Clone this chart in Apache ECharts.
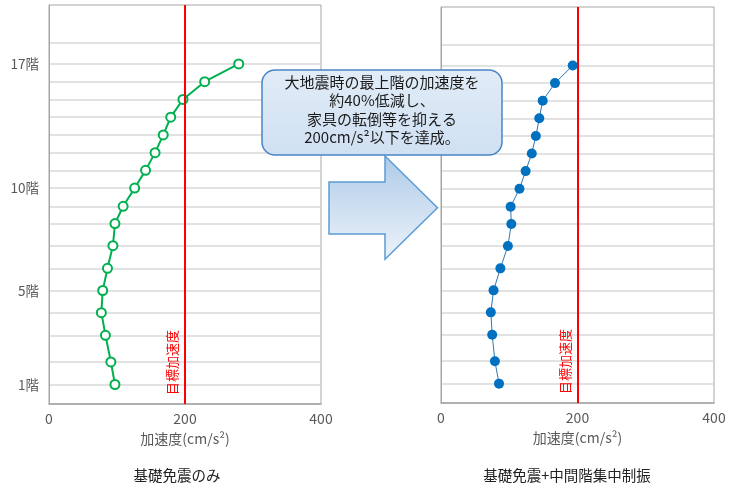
<!DOCTYPE html>
<html>
<head>
<meta charset="utf-8">
<script src="https://cdn.jsdelivr.net/npm/echarts@6/dist/echarts.min.js"></script>
<style>
  html, body { margin: 0; padding: 0; background: #fff; }
  #chart { width: 732px; height: 488px; }
</style>
</head>
<body>
<div id="chart"></div>
<script>
const floorNames = ['1階', '2階', '3階', '4階', '5階', '6階', '7階', '8階', '9階',
  '10階', '11階', '12階', '13階', '14階', '15階', '16階', '17階']
// 各階の高さ (m)
const floorHeights = [4.4, 9.5, 15.5, 20.6, 25.6, 30.6, 35.7, 40.7, 44.6,
  48.7, 52.7, 56.7, 60.7, 64.7, 68.7, 72.7, 76.7]
const roofHeight = 81.4
const labeledFloors = ['1階', '5階', '10階', '17階']
// 加速度 (cm/s2)
const accelBase = [97, 91, 83, 77, 79, 86, 94, 97, 109, 126, 142, 156, 168, 179, 197, 229, 279]
const accelDamped = [85, 79, 75, 73, 77, 87, 98, 103, 102, 115, 124, 133, 139, 144, 149, 167, 193]
const targetAccel = 200

const font = '"Noto Sans CJK JP", "Noto Sans", sans-serif'
const gray = '#595959'

const gridLevels = floorHeights.concat([roofHeight])
const labelValues = labeledFloors.map(f => floorHeights[floorNames.indexOf(f)])

function yAxisFor(gridIndex, showLabel) {
  return {
    type: 'value',
    gridIndex,
    min: 0,
    max: 90,
    axisLine: { show: true, lineStyle: { color: '#a6a6a6', width: 1 } },
    axisTick: { show: false, customValues: gridLevels },
    splitLine: { show: true, customValues: gridLevels, lineStyle: { color: '#d9d9d9', width: 1.5 } },
    axisLabel: {
      show: showLabel,
      customValues: labelValues,
      color: gray,
      fontSize: 13.5,
      fontFamily: font,
      margin: 10,
      formatter: v => {
        const i = floorHeights.findIndex(h => Math.abs(h - v) < 0.01)
        return i >= 0 ? floorNames[i] : ''
      }
    }
  }
}

function xAxisFor(gridIndex) {
  return {
    type: 'value',
    gridIndex,
    min: 0,
    max: 400,
    interval: 200,
    name: '加速度(cm/s²)',
    nameLocation: 'middle',
    nameGap: 28,
    nameTextStyle: { color: gray, fontSize: 14, fontFamily: font },
    axisLine: { show: true, lineStyle: { color: '#a6a6a6', width: 1.5 } },
    axisTick: { show: false },
    splitLine: { show: false },
    axisLabel: { color: gray, fontSize: 14, fontFamily: font, margin: 8 }
  }
}

function targetLine() {
  return {
    silent: true,
    symbol: 'none',
    lineStyle: { color: '#ff0000', width: 2, type: 'solid' },
    label: {
      show: true,
      formatter: '目標加速度',
      position: 'insideStartTop',
      distance: [9, 6],
      color: '#ff0000',
      fontSize: 13,
      fontFamily: font
    },
    data: [{ xAxis: targetAccel }]
  }
}

const chart = echarts.init(document.getElementById('chart'))
chart.setOption({
  animation: false,
  grid: [
    { left: 49, right: 411, top: 5, bottom: 84, show: true, borderColor: '#a6a6a6', borderWidth: 1 },
    { left: 441, right: 18, top: 7, bottom: 85, show: true, borderColor: '#a6a6a6', borderWidth: 1 }
  ],
  xAxis: [xAxisFor(0), xAxisFor(1)],
  yAxis: [yAxisFor(0, true), yAxisFor(1, false)],
  series: [
    {
      name: '基礎免震のみ',
      type: 'line',
      xAxisIndex: 0,
      yAxisIndex: 0,
      data: accelBase.map((a, i) => [a, floorHeights[i]]),
      symbol: 'emptyCircle',
      symbolSize: 9,
      lineStyle: { color: '#00b050', width: 2 },
      itemStyle: { color: '#00b050', borderWidth: 1.5 },
      markLine: targetLine()
    },
    {
      name: '基礎免震+中間階集中制振',
      type: 'line',
      xAxisIndex: 1,
      yAxisIndex: 1,
      data: accelDamped.map((a, i) => [a, floorHeights[i]]),
      symbol: 'circle',
      symbolSize: 10,
      lineStyle: { color: '#2e75b6', width: 1 },
      itemStyle: { color: '#0070c0' },
      markLine: targetLine()
    }
  ],
  graphic: [
    {
      type: 'polygon',
      z: 100,
      shape: { points: [[329, 182], [385, 182], [385, 156], [437.5, 207.7], [385, 259.3], [385, 234], [329, 234]] },
      style: {
        fill: new echarts.graphic.LinearGradient(0, 0, 0, 1, [
          { offset: 0, color: '#aecbe8' },
          { offset: 1, color: '#edf3fa' }
        ]),
        stroke: '#5b9bd5',
        lineWidth: 1.5
      }
    },
    {
      type: 'rect',
      z: 100,
      shape: { x: 262, y: 70, width: 240, height: 85, r: 13 },
      style: {
        fill: new echarts.graphic.LinearGradient(0, 0, 0, 1, [
          { offset: 0, color: '#e1ecf7' },
          { offset: 1, color: '#cfe0f2' }
        ]),
        stroke: '#4a85c5',
        lineWidth: 1.5
      }
    },
    {
      type: 'text',
      z: 101,
      x: 382,
      y: 110,
      style: {
        text: '大地震時の最上階の加速度を\n約40%低減し、\n家具の転倒等を抑える\n200cm/s²以下を達成。',
        fill: '#1a1a1a',
        fontSize: 15,
        lineHeight: 18.5,
        fontFamily: font,
        align: 'center',
        verticalAlign: 'middle'
      }
    },
    {
      type: 'text',
      x: 177,
      y: 475,
      style: { text: '基礎免震のみ', fill: '#222', fontSize: 14.5, fontFamily: font, align: 'center', verticalAlign: 'middle' }
    },
    {
      type: 'text',
      x: 567,
      y: 475,
      style: { text: '基礎免震+中間階集中制振', fill: '#222', fontSize: 14.5, fontFamily: font, align: 'center', verticalAlign: 'middle' }
    }
  ]
})
</script>
</body>
</html>
